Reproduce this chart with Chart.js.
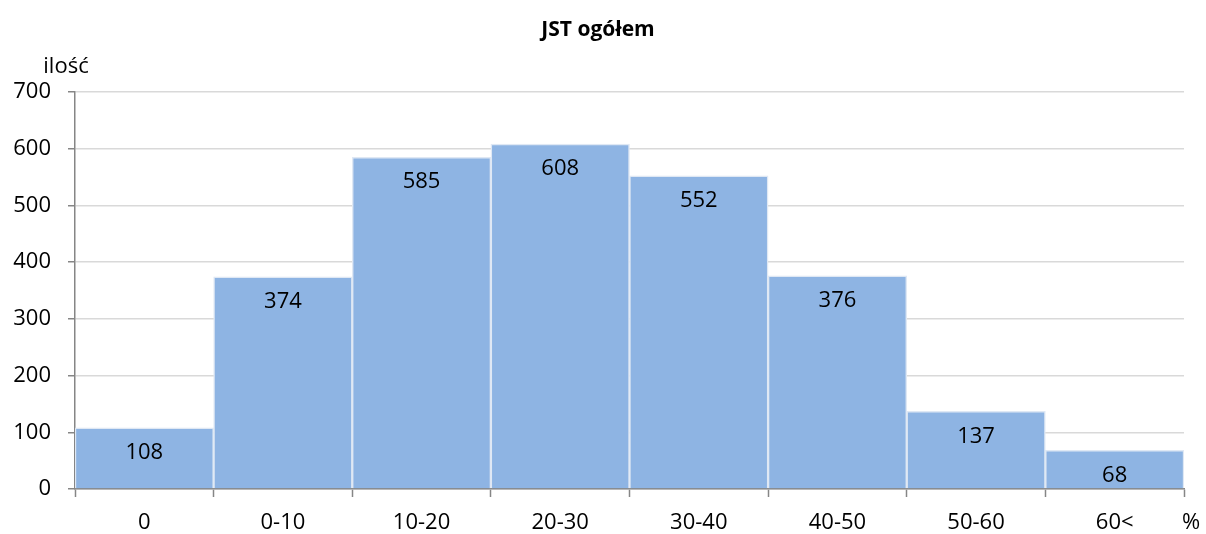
<!DOCTYPE html>
<html>
<head>
<meta charset="utf-8">
<script src="https://cdn.jsdelivr.net/npm/chart.js@4"></script>
<style>
    html, body { margin: 0; padding: 0; background: #ffffff; }
    #wrap { width: 1206px; height: 534px; position: relative; }
</style>
</head>
<body>
<div id="wrap"><canvas id="histChart"></canvas></div>
<script>
const categories = ['0', '0-10', '10-20', '20-30', '30-40', '40-50', '50-60', '60<'];
const counts = [108, 374, 585, 608, 552, 376, 137, 68];
const yTicks = [0, 100, 200, 300, 400, 500, 600, 700];
const chartTitle = 'JST ogółem';
const yAxisLabel = 'ilość';
const xAxisUnit = '%';

const fontFamily = '"Open Sans", "Liberation Sans", sans-serif';
const barColor = '#8EB4E3';

// etykiety wartości, tytuł i opisy osi rysowane ręcznie
const extrasPlugin = {
    id: 'extras',
    afterDatasetsDraw(chart) {
        const ctx = chart.ctx;
        const area = chart.chartArea;
        const meta = chart.getDatasetMeta(0);
        ctx.save();
        ctx.fillStyle = '#000000';
        ctx.font = '22px ' + fontFamily;
        ctx.textAlign = 'center';
        ctx.textBaseline = 'middle';
        meta.data.forEach((bar, i) => {
            ctx.fillText(String(counts[i]), bar.x, bar.y + 25);
        });

        ctx.font = 'bold 21px ' + fontFamily;
        ctx.fillText(chartTitle, 598, 30);

        ctx.font = '22px ' + fontFamily;
        ctx.fillText(yAxisLabel, 66, 67);
        ctx.fillText(xAxisUnit, area.right + 7, 523);
        ctx.restore();
    }
};

const ctx = document.getElementById('histChart').getContext('2d');
new Chart(ctx, {
    type: 'bar',
    data: {
        labels: categories,
        datasets: [{
            data: counts,
            backgroundColor: barColor,
            borderColor: '#dfe8f4',
            borderWidth: 1.5,
            categoryPercentage: 1,
            barPercentage: 1
        }]
    },
    options: {
        responsive: true,
        maintainAspectRatio: false,
        animation: false,
        layout: { padding: { left: 0, right: 22, top: 92, bottom: 0 } },
        plugins: {
            legend: { display: false },
            title: { display: false },
            tooltip: { enabled: false }
        },
        scales: {
            x: {
                grid: {
                    offset: true,
                    drawOnChartArea: false,
                    tickLength: 8,
                    tickColor: '#868686',
                    tickWidth: 1.5
                },
                border: { color: '#868686', width: 1.5 },
                ticks: {
                    color: '#000000',
                    font: { family: fontFamily, size: 22 },
                    padding: 13,
                    maxRotation: 0
                },
                afterFit(scale) { scale.height = 45; }
            },
            y: {
                min: 0,
                max: 700,
                afterBuildTicks(scale) {
                    scale.ticks = yTicks.map(v => ({ value: v }));
                },
                grid: {
                    color: '#d9d9d9',
                    lineWidth: 1.5,
                    tickLength: 7,
                    tickColor: '#868686',
                    tickWidth: 1.5
                },
                border: { color: '#868686', width: 1.5 },
                ticks: {
                    color: '#000000',
                    font: { family: fontFamily, size: 22 },
                    padding: 17
                },
                afterFit(scale) { scale.width = 75; }
            }
        }
    },
    plugins: [extrasPlugin]
});
</script>
</body>
</html>
